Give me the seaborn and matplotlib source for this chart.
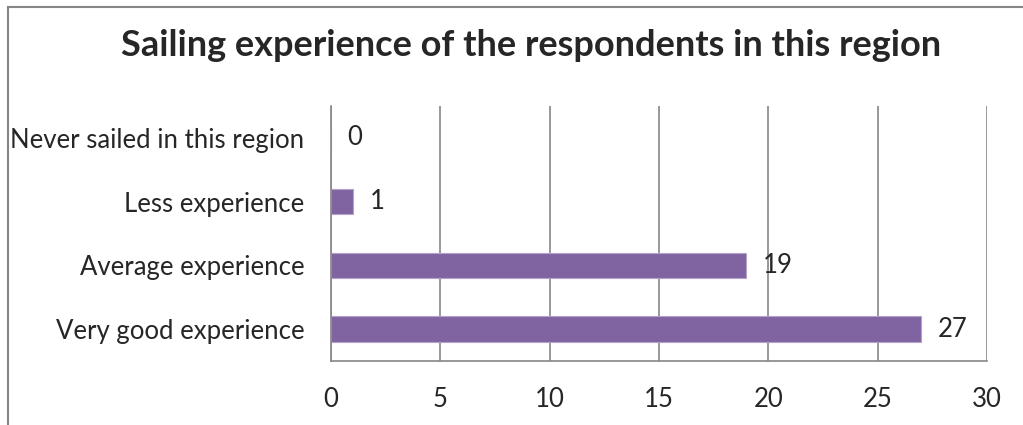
import matplotlib.pyplot as plt
import pandas as pd
import seaborn as sns
from matplotlib.patches import Rectangle

# 数据
categories = ['Never sailed in this region', 'Less experience', 'Average experience', 'Very good experience']
counts = [0, 1, 19, 27]
x_ticks = [0, 5, 10, 15, 20, 25, 30]

df = pd.DataFrame({'category': categories, 'count': counts})

sns.set_style('white')
plt.rcParams['font.family'] = ['Lato', 'DejaVu Sans']

fig = plt.figure(figsize=(10.23, 4.25), dpi=100)
ax = fig.add_axes([331 / 1023, 1 - 361 / 425, (987 - 331) / 1023, (361 - 106) / 425])

sns.barplot(data=df, x='count', y='category', orient='h', color='#8064A2',
            width=0.4, edgecolor='#B3A2C7', linewidth=0.8, ax=ax, saturation=1)

ax.set_xlim(0, 30)
ax.set_xticks(x_ticks)
ax.xaxis.grid(True, color='#868686', linewidth=1.2)
ax.set_axisbelow(True)
ax.set_xlabel('')
ax.set_ylabel('')
ax.tick_params(axis='x', labelsize=18.5, pad=19, length=0)
ax.tick_params(axis='y', labelsize=18.5, pad=19, length=0)

for side in ['top', 'right']:
    ax.spines[side].set_visible(False)
for side in ['left', 'bottom']:
    ax.spines[side].set_color('#868686')
    ax.spines[side].set_linewidth(1.2)

# 数值标签
for i, v in enumerate(counts):
    ax.annotate(str(v), (v, i), textcoords='offset points', xytext=(12, 0),
                ha='left', va='center', fontsize=18.5)

fig.suptitle('Sailing experience of the respondents in this region', x=531 / 1023, y=1 - 45 / 425,
             va='center', fontsize=26, fontweight='bold')

# 外框
fig.patches.append(Rectangle((8 / 1023, -0.05), 1.1, 1 - 7 / 425 + 0.05, transform=fig.transFigure,
                             fill=False, edgecolor='#868686', linewidth=1.5))

fig.savefig('out.png', dpi=100)
